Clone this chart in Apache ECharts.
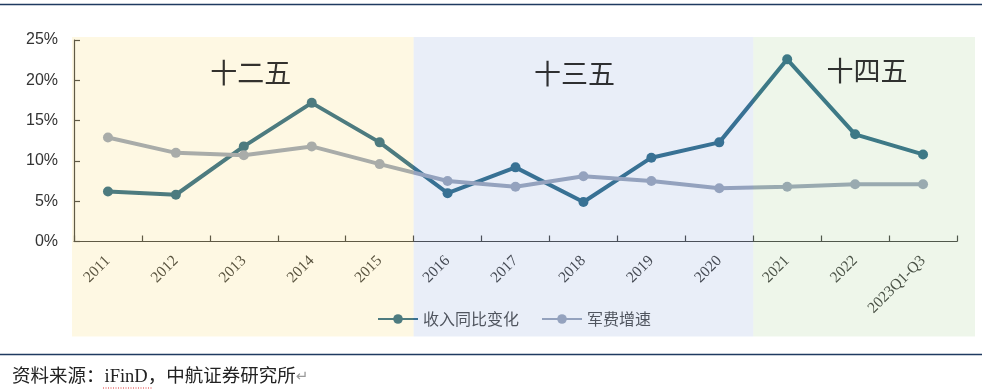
<!DOCTYPE html>
<html>
<head>
<meta charset="utf-8">
<script src="https://cdn.jsdelivr.net/npm/echarts@6/dist/echarts.min.js"></script>
<style>html,body{margin:0;padding:0;background:#fff}#c{width:982px;height:389px}</style>
</head>
<body>
<div id="c"></div>
<script>
const categories = ['2011','2012','2013','2014','2015','2016','2017','2018','2019','2020','2021','2022','2023Q1-Q3'];
const revenueGrowth = [6.2, 5.8, 11.8, 17.2, 12.3, 6.0, 9.2, 4.9, 10.4, 12.3, 22.6, 13.3, 10.8];
const milSpendGrowth = [12.9, 11.0, 10.7, 11.8, 9.6, 7.5, 6.8, 8.1, 7.5, 6.6, 6.8, 7.1, 7.1];
const seriesNames = ['收入同比变化', '军费增速'];
const yTicks = [0, 5, 10, 15, 20, 25];
const periodNames = ['十二五', '十三五', '十四五'];
const periodStart = ['2011', '2016', '2021'];
const periodEnd = ['2015', '2020', '2023Q1-Q3'];
const periodLabelCat = ['2013', '2018', '2022'];
const periodLabelY = [21.0, 20.8, 21.15];
const sourceText = '资料来源：iFinD，中航证券研究所';

const bandColors = ['rgba(250,220,115,0.2)', 'rgba(145,170,220,0.2)', 'rgba(170,210,150,0.2)'];
const labelOffsets = [[7, 0], [-9, 0], [12, 0]];

const chart = echarts.init(document.getElementById('c'));
chart.setOption({
  animation: false,
  grid: { left: 74, right: 25, top: 40, bottom: 147.5 },
  xAxis: {
    type: 'category',
    data: categories,
    boundaryGap: true,
    axisLine: { lineStyle: { color: '#3a3a3a', width: 1.2 } },
    axisTick: { show: true, inside: true, length: 6, lineStyle: { color: '#3a3a3a', width: 1.2 } },
    axisLabel: { rotate: 45, margin: 17, fontSize: 15.5, color: '#333', fontFamily: 'Liberation Serif', interval: 0 }
  },
  yAxis: {
    type: 'value',
    min: yTicks[0],
    max: yTicks[yTicks.length - 1],
    interval: 5,
    splitLine: { show: false },
    axisLine: { show: true, lineStyle: { color: '#3a3a3a', width: 1.2 } },
    axisTick: { show: true, inside: true, length: 6, lineStyle: { color: '#3a3a3a', width: 1.2 } },
    axisLabel: { formatter: '{value}%', fontSize: 16, color: '#333', margin: 16, fontFamily: 'Liberation Sans' }
  },
  legend: {
    data: seriesNames,
    left: 372,
    top: 306,
    itemWidth: 40,
    itemHeight: 12,
    itemGap: 22,
    textStyle: { fontSize: 16, color: '#404040', fontFamily: 'Noto Sans CJK SC' }
  },
  series: [
    {
      name: seriesNames[0],
      type: 'line',
      data: revenueGrowth,
      z: 3,
      lineStyle: { color: 'rgb(34,99,131)', width: 4 },
      itemStyle: { color: 'rgb(34,99,131)' },
      symbol: 'circle',
      symbolSize: 10
    },
    {
      name: seriesNames[1],
      type: 'line',
      data: milSpendGrowth,
      z: 3,
      lineStyle: { color: 'rgb(149,161,183)', width: 4 },
      itemStyle: { color: 'rgb(149,161,183)' },
      symbol: 'circle',
      symbolSize: 10
    },
    {
      type: 'custom',
      name: 'bands',
      z: 50,
      clip: false,
      silent: true,
      encode: { x: [0, 1], y: 2 },
      data: periodStart.map((s, i) => [s, periodEnd[i], i]),
      renderItem: function (params, api) {
        const s = api.value(0), e = api.value(1), ci = api.value(2);
        const w = api.size([1, 0])[0];
        let x0 = api.coord([s, 0])[0] - w / 2;
        let x1 = api.coord([e, 0])[0] + w / 2;
        if (ci === 0) x0 -= 2;
        if (ci === periodStart.length - 1) x1 += 18;
        const yTop = api.coord([s, yTicks[yTicks.length - 1]])[1] - 3;
        const yBot = api.coord([s, yTicks[0]])[1] + 95;
        return {
          type: 'rect',
          shape: { x: x0, y: yTop, width: x1 - x0, height: yBot - yTop },
          style: { fill: bandColors[ci] }
        };
      }
    },
    {
      type: 'scatter',
      name: 'periods',
      z: 60,
      silent: true,
      symbolSize: 0,
      data: periodNames.map((n, i) => ({
        name: n,
        value: [periodLabelCat[i], periodLabelY[i]],
        label: { offset: labelOffsets[i] }
      })),
      label: {
        show: true,
        position: 'inside',
        formatter: '{b}',
        fontSize: 27,
        color: '#000',
        fontFamily: 'Noto Sans CJK SC'
      }
    }
  ],
  graphic: [
    { type: 'line', shape: { x1: 0, y1: 4.5, x2: 982, y2: 4.5 }, style: { stroke: '#1f3a60', lineWidth: 1.5 }, silent: true },
    { type: 'line', shape: { x1: 0, y1: 354.5, x2: 982, y2: 354.5 }, style: { stroke: '#1f3a60', lineWidth: 1.5 }, silent: true },
    {
      type: 'text', left: 12, top: 368,
      style: {
        text: '{a|' + sourceText + '}{b|↵}',
        rich: {
          a: { fontSize: 18.5, fill: '#222', fontFamily: 'Liberation Serif, Noto Sans CJK SC' },
          b: { fontSize: 15, fill: '#999', fontFamily: 'DejaVu Sans' }
        }
      }
    },
    { type: 'line', shape: { x1: 103, y1: 388, x2: 152, y2: 388 }, style: { stroke: '#e03030', lineWidth: 1, lineDash: [1, 1.5] }, silent: true }
  ]
});
</script>
</body>
</html>
